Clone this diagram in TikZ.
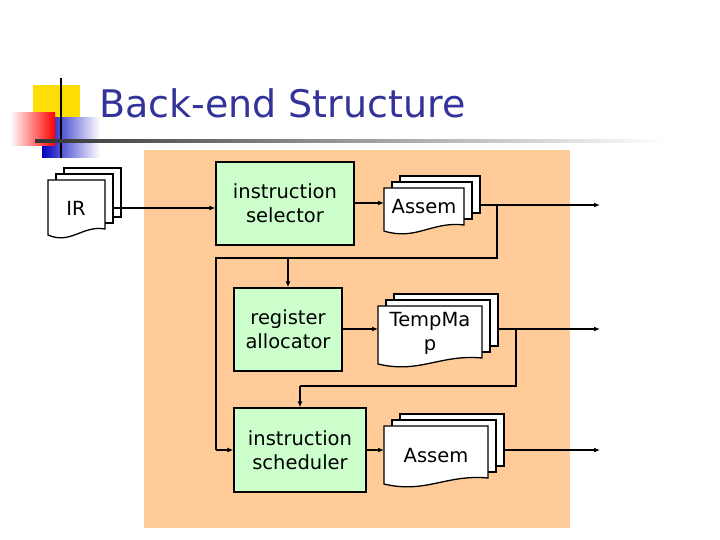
\documentclass[tikz,border=0pt]{standalone}
\usepackage{fontspec}
\setmainfont{DejaVu Sans}
\usetikzlibrary{arrows.meta,fadings}
\definecolor{bgor}{HTML}{FFCC99}
\definecolor{boxg}{HTML}{CCFFCC}
\definecolor{ttl}{HTML}{333399}
\begin{document}
\begin{tikzpicture}[x=1pt,y=-1pt,
  box/.style={draw=black,line width=1.3pt,fill=boxg,align=center,font=\fontsize{19.5}{24}\selectfont},
  lab/.style={align=center,font=\fontsize{19.5}{24}\selectfont,inner sep=0pt},
  con/.style={line width=2pt,-{Latex[length=6pt,width=5pt]}},
  ln/.style={line width=2pt},
  sheet/.style={draw=black,line width=1.3pt,fill=white}]
\useasboundingbox (0,0) rectangle (720,540);
% logo
\fill[yellow!80!orange] (33,85) rectangle (80,130);
\shade[left color=blue!75!black,right color=white] (42,118) rectangle (100,158);
\shade[left color=white,right color=red] (10,113) rectangle (55,146);
\draw[line width=2pt] (61,78) -- (61,158);
\shade[left color=black!80,right color=white] (35,140) rectangle (665,142.5);
\node[anchor=west,text=ttl,font=\fontsize{38}{42}\selectfont,inner sep=0pt] (title) at (99,103) {Back-end Structure};
% background
\fill[bgor] (144,150) rectangle (570,528);
% documents: #1 x, #2 y, #3 w, #4 h (front sheet)
\newcommand\mydoc[4]{%
  \foreach \o in {2,1}{%
    \draw[sheet] ({#1+8*\o},{#2-6*\o}) rectangle ({#1+#3+8*\o},{#2+#4-6*\o-8});}
  \draw[sheet] (#1,#2) -- ({#1+#3},#2) -- ({#1+#3},{#2+#4-8})
    .. controls ({#1+0.6*#3},{#2+#4-12}) and ({#1+0.4*#3},{#2+#4+8}) .. (#1,{#2+#4-2}) -- cycle;}
\mydoc{48}{180}{57}{57}
\node[lab] (ir) at (76,208) {IR};
\mydoc{384}{188}{80}{45}
\node[lab] (a1) at (424,207) {Assem};
\mydoc{378}{306}{104}{60}
\node[lab] (tm) at (430,333) {TempMa\\p};
\mydoc{384}{426}{104}{60}
\node[lab] (a3) at (436,456) {Assem};
% boxes
\node[box,minimum width=138,minimum height=83] (sel) at (285,203.5) {instruction\\selector};
\node[box,minimum width=108,minimum height=83] (ra) at (288,329.5) {register\\allocator};
\node[box,minimum width=132,minimum height=84] (sch) at (300,450) {instruction\\scheduler};
\coordinate (o1) at (600,205);
\coordinate (o2) at (600,329);
\coordinate (o3) at (600,450);
% connectors
\draw[con] (113,208) -- (sel.west|-0,208);
\draw[con] (sel.east|-0,203) -- (384,203);
\draw[con] (480,205) -- (o1);
\draw[ln] (497,205) -- (497,258) -- (216,258) -- (216,450);
\draw[con] (216,450) -- (sch.west|-0,450);
\draw[con] (288,258) -- (ra.north);
\draw[con] (ra.east|-0,329) -- (378,329);
\draw[con] (498,329) -- (o2);
\draw[ln] (516,329) -- (516,386) -- (300,386);
\draw[con] (300,386) -- (sch.north);
\draw[con] (sch.east|-0,450) -- (384,450);
\draw[con] (504,450) -- (o3);
\end{tikzpicture}
\end{document}
